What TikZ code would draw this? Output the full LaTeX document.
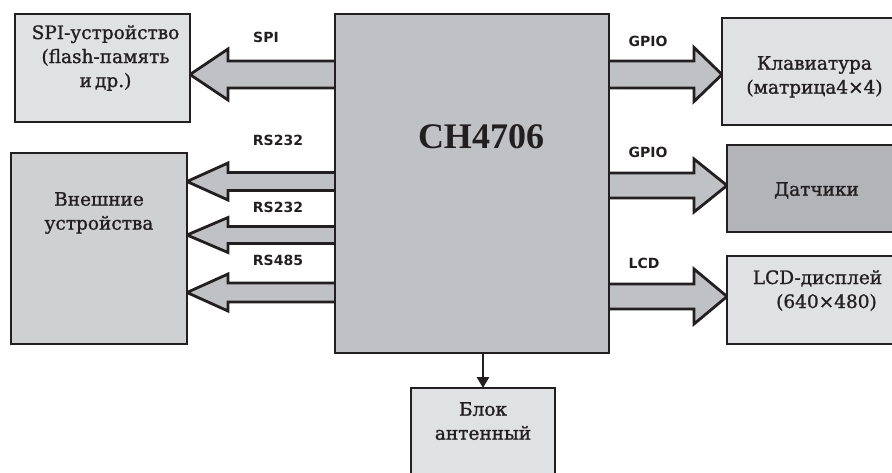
\documentclass[tikz,border=0pt]{standalone}
\usepackage{fontspec}
\setmainfont{DejaVu Serif}
\newfontfamily\labelfont{DejaVu Sans}
\newfontfamily\chipfont{Liberation Serif}
\usetikzlibrary{positioning,arrows.meta,backgrounds}

\definecolor{inkline}{HTML}{231F20}
\definecolor{boxlight}{HTML}{E0E1E3}
\definecolor{boxmid}{HTML}{CFD0D2}
\definecolor{boxchip}{HTML}{C0C1C4}
\definecolor{boxdark}{HTML}{B3B4B7}

\tikzset{
  block/.style={draw=inkline,line width=2.8pt,outer sep=0pt,inner sep=0pt},
  blocktext/.style={inner sep=0pt,align=center,text=inkline,
    font=\fontsize{18.5}{24}\selectfont\addfontfeature{FakeBold=1.2}},
  buslabel/.style={inner sep=0pt,text=inkline,font=\labelfont\bfseries\fontsize{14}{16}\selectfont},
  bus/.style={draw=inkline,fill=boxchip,line width=2.8pt,line join=miter},
  feed/.style={draw=inkline,line width=2.8pt,-{Triangle[width=12pt,length=11pt]}},
}

% wide bus arrows: target, centre y, half shaft, half head
\newcommand{\busleft}[4]{%
  \draw[bus] (chip.west |- 0,#2-#3) -- (228,#2-#3) -- (228,#2-#4)
    -- (#1.east |- 0,#2) -- (228,#2+#4) -- (228,#2+#3)
    -- (chip.west |- 0,#2+#3);
}
\newcommand{\busright}[4]{%
  \draw[bus] (chip.east |- 0,#2-#3) -- (694,#2-#3) -- (694,#2-#4)
    -- (#1.west |- 0,#2) -- (694,#2+#4) -- (694,#2+#3)
    -- (chip.east |- 0,#2+#3);
}

\begin{document}
\begin{tikzpicture}[x=1pt,y=-1pt]
  \useasboundingbox (0,0) rectangle (892,472);
  \clip (0,0) rectangle (892,472);

  % blocks
  \node[block,fill=boxchip,minimum width=274,minimum height=339] (chip) at (472,183.5) {};
  \node[block,fill=boxlight,minimum width=175,minimum height=108] (spi) at (102.5,68) {};
  \node[block,fill=boxmid,minimum width=176,minimum height=191] (ext) at (99,248.5) {};
  \node[block,fill=boxlight,minimum width=185,minimum height=107] (kbd) at (814.5,71.5) {};
  \node[block,fill=boxdark,minimum width=179,minimum height=87] (sens) at (816.5,188.5) {};
  \node[block,fill=boxlight,minimum width=181,minimum height=88] (lcd) at (817.5,300) {};
  \node[block,fill=boxlight,minimum width=144,minimum height=102] (ant) at (483,439) {};

  % texts
  \node[inner sep=0pt,text=inkline,font=\chipfont\bfseries\fontsize{36}{40}\selectfont] (chiptext) at (481,137) {CH4706};
  \node[blocktext,below=11pt of spi.north,xshift=3pt] (spitext) {SPI-устройство\\(flash-память\\и\,др.)};
  \node[blocktext,below=39pt of ext.north] (exttext) {Внешние\\устройства};
  \node[blocktext,below=38pt of kbd.north] (kbdtext) {Клавиатура\\(матрица4×4)};
  \node[blocktext,below=37pt of sens.north] (senstext) {Датчики};
  \node[blocktext,below=14pt of lcd.north] (lcdtext) {LCD-дисплей\\\hspace*{18pt}(640×480)};
  \node[blocktext,below=14pt of ant.north] (anttext) {Блок\\антенный};

  % bus labels
  \node[buslabel] (spilbl) at (266,37) {SPI};
  \node[buslabel] (rsalbl) at (278,140) {RS232};
  \node[buslabel] (rsblbl) at (278,207) {RS232};
  \node[buslabel] (rsclbl) at (278,260) {RS485};
  \node[buslabel] (gpioalbl) at (648,41) {GPIO};
  \node[buslabel] (gpioblbl) at (648,152) {GPIO};
  \node[buslabel] (lcdlbl) at (644,263.5) {LCD};

  % buses
  \begin{scope}[on background layer]
    \busleft{spi}{74.5}{13.5}{25.5}
    \busleft{ext}{181.5}{9}{18.5}
    \busleft{ext}{235}{8.5}{17.5}
    \busleft{ext}{292.5}{9.5}{18.5}
    \busright{kbd}{74.5}{13.5}{27}
    \busright{sens}{185.5}{12.5}{26.5}
    \busright{lcd}{296.5}{12.5}{27.5}
  \end{scope}

  \draw[feed] (ant.north |- chip.south) -- (ant.north);
\end{tikzpicture}
\end{document}
